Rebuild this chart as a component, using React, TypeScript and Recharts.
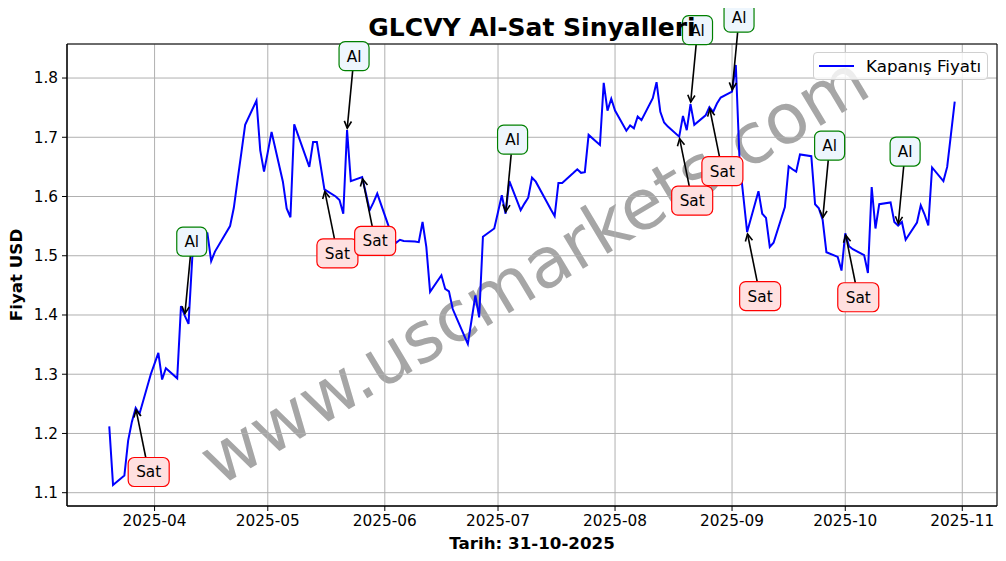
import React from "react";
import {
  LineChart,
  Line,
  XAxis,
  YAxis,
  CartesianGrid,
  ReferenceDot,
  ReferenceArea,
  Legend,
} from "recharts";

// kapanis fiyatlari (gunluk)
const dates = [
  "2025-03-20", "2025-03-21", "2025-03-24", "2025-03-25", "2025-03-26", "2025-03-27", "2025-03-28", "2025-03-31",
  "2025-04-01", "2025-04-02", "2025-04-03", "2025-04-04", "2025-04-07", "2025-04-08", "2025-04-09", "2025-04-10",
  "2025-04-11", "2025-04-14", "2025-04-15", "2025-04-16", "2025-04-17", "2025-04-21", "2025-04-22", "2025-04-23",
  "2025-04-24", "2025-04-25", "2025-04-28", "2025-04-29", "2025-04-30", "2025-05-01", "2025-05-02", "2025-05-05",
  "2025-05-06", "2025-05-07", "2025-05-08", "2025-05-09", "2025-05-12", "2025-05-13", "2025-05-14", "2025-05-15",
  "2025-05-16", "2025-05-19", "2025-05-20", "2025-05-21", "2025-05-22", "2025-05-23", "2025-05-26", "2025-05-27",
  "2025-05-28", "2025-05-29", "2025-05-30", "2025-06-02", "2025-06-03", "2025-06-04", "2025-06-05", "2025-06-06",
  "2025-06-09", "2025-06-10", "2025-06-11", "2025-06-12", "2025-06-13", "2025-06-16", "2025-06-17", "2025-06-18",
  "2025-06-19", "2025-06-20", "2025-06-23", "2025-06-24", "2025-06-25", "2025-06-26", "2025-06-27", "2025-06-30",
  "2025-07-01", "2025-07-02", "2025-07-03", "2025-07-04", "2025-07-07", "2025-07-08", "2025-07-09", "2025-07-10",
  "2025-07-11", "2025-07-14", "2025-07-15", "2025-07-16", "2025-07-17", "2025-07-18", "2025-07-21", "2025-07-22",
  "2025-07-23", "2025-07-24", "2025-07-25", "2025-07-28", "2025-07-29", "2025-07-30", "2025-07-31", "2025-08-01",
  "2025-08-04", "2025-08-05", "2025-08-06", "2025-08-07", "2025-08-08", "2025-08-11", "2025-08-12", "2025-08-13",
  "2025-08-14", "2025-08-15", "2025-08-18", "2025-08-19", "2025-08-20", "2025-08-21", "2025-08-22", "2025-08-25",
  "2025-08-26", "2025-08-27", "2025-08-28", "2025-08-29", "2025-09-01", "2025-09-02", "2025-09-03", "2025-09-04",
  "2025-09-05", "2025-09-08", "2025-09-09", "2025-09-10", "2025-09-11", "2025-09-12", "2025-09-15", "2025-09-16",
  "2025-09-17", "2025-09-18", "2025-09-19", "2025-09-22", "2025-09-23", "2025-09-24", "2025-09-25", "2025-09-26",
  "2025-09-29", "2025-09-30", "2025-10-01", "2025-10-02", "2025-10-03", "2025-10-06", "2025-10-07", "2025-10-08",
  "2025-10-09", "2025-10-10", "2025-10-13", "2025-10-14", "2025-10-15", "2025-10-16", "2025-10-17", "2025-10-20",
  "2025-10-21", "2025-10-22", "2025-10-23", "2025-10-24", "2025-10-27", "2025-10-28", "2025-10-29", "2025-10-30",
];

const closes = [
  1.212, 1.113, 1.129, 1.188, 1.22, 1.243, 1.233, 1.3,
  1.318, 1.336, 1.291, 1.31, 1.293, 1.415, 1.399, 1.385,
  1.498, 1.54, 1.538, 1.491, 1.507, 1.55, 1.581, 1.628,
  1.674, 1.721, 1.762, 1.678, 1.642, 1.675, 1.709, 1.625,
  1.58, 1.565, 1.722, 1.704, 1.65, 1.692, 1.692, 1.652,
  1.612, 1.6, 1.594, 1.571, 1.712, 1.626, 1.633, 1.605,
  1.577, 1.59, 1.605, 1.55, 1.532, 1.522, 1.527, 1.525,
  1.524, 1.523, 1.557, 1.515, 1.439, 1.467, 1.444, 1.44,
  1.41, 1.395, 1.351, 1.392, 1.433, 1.396, 1.532, 1.546,
  1.574, 1.602, 1.571, 1.626, 1.577, 1.588, 1.598, 1.632,
  1.625, 1.59, 1.578, 1.567, 1.623, 1.623, 1.64, 1.646,
  1.64, 1.641, 1.704, 1.687, 1.792, 1.745, 1.765, 1.745,
  1.711, 1.72, 1.715, 1.735, 1.729, 1.766, 1.793, 1.743,
  1.725, 1.718, 1.701, 1.736, 1.712, 1.756, 1.721, 1.737,
  1.751, 1.743, 1.757, 1.767, 1.777, 1.822, 1.66, 1.6,
  1.54, 1.609, 1.571, 1.564, 1.515, 1.522, 1.582, 1.651,
  1.646, 1.642, 1.671, 1.668, 1.587, 1.58, 1.561, 1.506,
  1.498, 1.475, 1.538, 1.516, 1.511, 1.501, 1.471, 1.616,
  1.546, 1.587, 1.59, 1.557, 1.551, 1.557, 1.527, 1.556,
  1.585, 1.57, 1.551, 1.649, 1.626, 1.65, 1.705, 1.76,
];

const alDates = ["2025-04-09", "2025-05-22", "2025-07-03", "2025-08-21", "2025-09-01", "2025-09-25", "2025-10-15"];
const satDates = ["2025-03-27", "2025-05-16", "2025-05-26", "2025-08-18", "2025-08-26", "2025-09-05", "2025-10-01"];

const monthTicks = ["2025-04-01", "2025-05-01", "2025-06-01", "2025-07-01", "2025-08-01", "2025-09-01", "2025-10-01", "2025-11-01"];
const priceTicks = [1.1, 1.2, 1.3, 1.4, 1.5, 1.6, 1.7, 1.8];

const FONT = "'DejaVu Sans', sans-serif";
const ts = (d: string) => Date.parse(d + "T00:00:00Z");

const rows = dates.map((d, i) => ({ t: ts(d), close: closes[i] }));
const t0 = rows[0].t;
const t1 = rows[rows.length - 1].t;
const xDomain = [t0 - (t1 - t0) * 0.05, t1 + (t1 - t0) * 0.05];
const lo = Math.min(...closes);
const hi = Math.max(...closes);
const yDomain = [lo - (hi - lo) * 0.05, hi + (hi - lo) * 0.05];

const priceOn = (d: string) => closes[dates.indexOf(d)];

function SignalMark(props: any) {
  const { cx, cy, kind } = props;
  if (cx == null || cy == null) return null;
  const al = kind === "Al";
  const w = al ? 30 : 41;
  const h = 29;
  const bx = cx + (al ? 7 : 13);
  const by = cy + (al ? -74 : 64);
  const edgeY = al ? by + h / 2 : by - h / 2;
  const f = (edgeY - by) / (cy - by);
  const sx = bx + (cx - bx) * f;
  const sy = edgeY;
  const dx = cx - sx;
  const dy = cy - sy;
  const len = Math.hypot(dx, dy);
  const ux = dx / len;
  const uy = dy / len;
  const ex = cx - ux * 2;
  const ey = cy - uy * 2;
  const hl = 7;
  const hw = 3.6;
  const a1 = `${ex - ux * hl - uy * hw},${ey - uy * hl + ux * hw}`;
  const a2 = `${ex - ux * hl + uy * hw},${ey - uy * hl - ux * hw}`;
  return (
    <g>
      <line x1={sx} y1={sy} x2={ex} y2={ey} stroke="#000" strokeWidth={1.6} />
      <polyline points={`${a1} ${ex},${ey} ${a2}`} fill="none" stroke="#000" strokeWidth={1.6} />
      <rect
        x={bx - w / 2}
        y={by - h / 2}
        width={w}
        height={h}
        rx={6}
        fill={al ? "#eef6fd" : "#ffe0e0"}
        stroke={al ? "#008000" : "#ff0000"}
        strokeWidth={1.2}
      />
      <text x={bx} y={by + 5.5} textAnchor="middle" fontSize={15.3} fontFamily={FONT} fill="#000">
        {kind}
      </text>
    </g>
  );
}

function LegendBox(props: any) {
  const item = (props.payload || [])[0];
  if (!item) return null;
  return (
    <div
      style={{
        boxSizing: "border-box",
        width: 175,
        height: 28,
        border: "1px solid #d0d0d0",
        borderRadius: 4,
        background: "rgba(255,255,255,0.8)",
        display: "flex",
        alignItems: "center",
        fontFamily: FONT,
        fontSize: 16.7,
        color: "#000",
        whiteSpace: "nowrap",
      }}
    >
      <svg width={46} height={10} style={{ marginLeft: 4, flexShrink: 0 }}>
        <line x1={1} y1={5} x2={36} y2={5} stroke={item.color} strokeWidth={2} />
      </svg>
      <span style={{ marginLeft: 2 }}>{item.value}</span>
    </div>
  );
}

export default function App() {
  const W = 1006;
  const H = 561;
  return (
    <div style={{ position: "relative", width: W, height: H, margin: -8, fontFamily: FONT }}>
      <svg width={W} height={H} style={{ position: "absolute", left: 0, top: 0 }}>
        <text
          x={534}
          y={270}
          textAnchor="middle"
          dominantBaseline="central"
          fontSize={70}
          fontFamily={FONT}
          fill="#a6a6a6"
          transform="rotate(-31 534 270)"
        >
          www.uscmarkets.com
        </text>
      </svg>
      <LineChart width={W} height={H} data={rows} margin={{ top: 44, right: 9, bottom: 0, left: 0 }}>
        <CartesianGrid stroke="#b0b0b0" strokeWidth={1} />
        <XAxis
          dataKey="t"
          type="number"
          domain={xDomain}
          allowDataOverflow
          ticks={monthTicks.map(ts)}
          interval={0}
          tickFormatter={(v: number) => new Date(v).toISOString().slice(0, 7)}
          height={55}
          tickSize={5}
          tickMargin={4}
          stroke="#000"
          tick={{ fontSize: 15.3, fill: "#000", fontFamily: FONT }}
        />
        <YAxis
          type="number"
          domain={yDomain}
          allowDataOverflow
          ticks={priceTicks}
          interval={0}
          tickFormatter={(v: number) => v.toFixed(1)}
          width={67}
          tickSize={5}
          tickMargin={4}
          stroke="#000"
          tick={{ fontSize: 15.3, fill: "#000", fontFamily: FONT }}
        />
        <ReferenceArea
          x1={xDomain[0]}
          x2={xDomain[1]}
          y1={yDomain[0]}
          y2={yDomain[1]}
          fill="none"
          stroke="#000"
          strokeWidth={1}
          ifOverflow="visible"
        />
        <Line
          dataKey="close"
          name="Kapanış Fiyatı"
          stroke="#0000ff"
          strokeWidth={2}
          dot={false}
          isAnimationActive={false}
        />
        {satDates.map((d) => (
          <ReferenceDot
            key={"s" + d}
            x={ts(d)}
            y={priceOn(d)}
            r={0}
            ifOverflow="visible"
            shape={(p: any) => <SignalMark {...p} kind="Sat" />}
          />
        ))}
        {alDates.map((d) => (
          <ReferenceDot
            key={"a" + d}
            x={ts(d)}
            y={priceOn(d)}
            r={0}
            ifOverflow="visible"
            shape={(p: any) => <SignalMark {...p} kind="Al" />}
          />
        ))}
        <Legend
          layout="horizontal"
          verticalAlign="middle"
          align="center"
          content={LegendBox}
          wrapperStyle={{ left: 813, top: 52, width: 175, height: 28 }}
        />
      </LineChart>
      <svg width={W} height={H} style={{ position: "absolute", left: 0, top: 0, pointerEvents: "none" }}>
        <text x={532} y={36} textAnchor="middle" fontSize={25} fontWeight="bold" fontFamily={FONT} fill="#000">
          GLCVY Al-Sat Sinyalleri
        </text>
        <text x={532} y={549} textAnchor="middle" fontSize={16.7} fontWeight="bold" fontFamily={FONT} fill="#000">
          Tarih: 31-10-2025
        </text>
        <text
          x={16}
          y={275}
          textAnchor="middle"
          dominantBaseline="central"
          fontSize={16.7}
          fontWeight="bold"
          fontFamily={FONT}
          fill="#000"
          transform="rotate(-90 16 275)"
        >
          Fiyat USD
        </text>
      </svg>
    </div>
  );
}
